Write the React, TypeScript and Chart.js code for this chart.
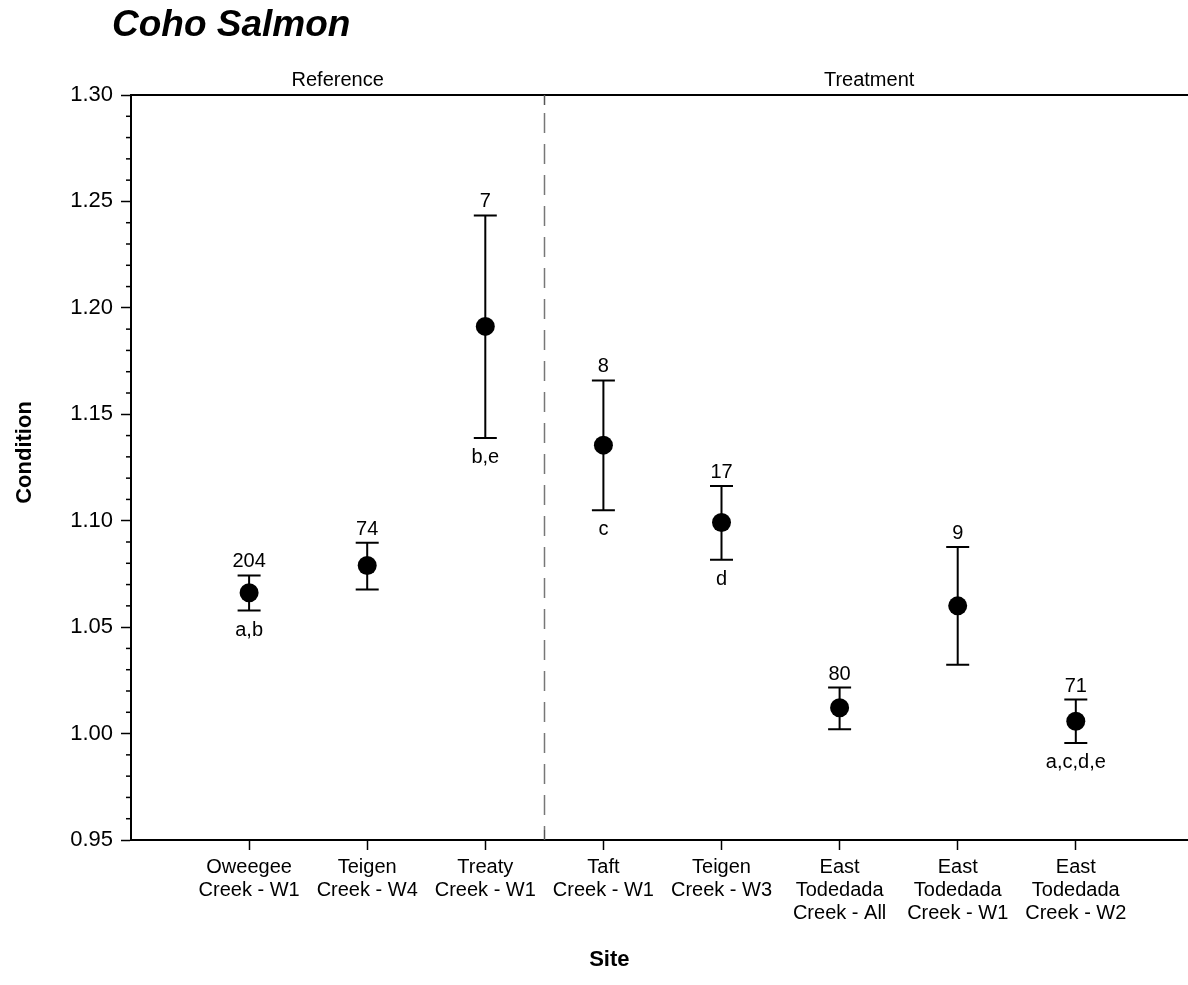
import React, { useEffect, useRef } from 'react';
import { Chart, registerables } from 'chart.js';

Chart.register(...registerables);

// ---- Data ----
const siteLabels: string[][] = [
  ['Oweegee', 'Creek - W1'],
  ['Teigen', 'Creek - W4'],
  ['Treaty', 'Creek - W1'],
  ['Taft', 'Creek - W1'],
  ['Teigen', 'Creek - W3'],
  ['East', 'Todedada', 'Creek - All'],
  ['East', 'Todedada', 'Creek - W1'],
  ['East', 'Todedada', 'Creek - W2'],
];
const sitePositions = [1, 2, 3, 4, 5, 6, 7, 8];
const meanCondition = [1.0662, 1.079, 1.1913, 1.1355, 1.0992, 1.0121, 1.06, 1.0058];
const upperCondition = [1.0743, 1.0897, 1.2434, 1.1659, 1.1163, 1.0216, 1.0876, 1.016];
const lowerCondition = [1.0578, 1.0677, 1.1389, 1.1049, 1.0817, 1.002, 1.0323, 0.9956];
const sampleSizes = ['204', '74', '7', '8', '17', '80', '9', '71'];
const groupLetters = ['a,b', '', 'b,e', 'c', 'd', '', '', 'a,c,d,e'];
const groupNames = ['Reference', 'Treatment'];
const groupBounds = [
  [0, 3.5],
  [3.5, 9],
];
const dividerPosition = 3.5;
const yMin = 0.95;
const yMax = 1.3;
const yMajorStep = 0.05;
const yMinorStep = 0.01;
const chartTitle = 'Coho Salmon';
const yTitle = 'Condition';
const xTitle = 'Site';

const FONT = "'Liberation Sans', Arial, Helvetica, sans-serif";

const decorPlugin = {
  id: 'decor',
  beforeDatasetsDraw(chart: any) {
    const { ctx, chartArea, scales } = chart;
    const xs = scales.x;
    const ys = scales.y;
    ctx.save();
    // top frame line
    ctx.strokeStyle = '#000';
    ctx.lineWidth = 2;
    ctx.beginPath();
    ctx.moveTo(chartArea.left, chartArea.top);
    ctx.lineTo(chartArea.right, chartArea.top);
    ctx.stroke();

    // minor ticks on y axis
    ctx.lineWidth = 1.5;
    const nMinor = Math.round((yMax - yMin) / yMinorStep);
    for (let k = 0; k <= nMinor; k++) {
      const v = yMin + k * yMinorStep;
      const r = (v - yMin) / yMajorStep;
      if (Math.abs(r - Math.round(r)) < 1e-6) continue;
      const py = ys.getPixelForValue(v);
      ctx.beginPath();
      ctx.moveTo(chartArea.left - 5, py);
      ctx.lineTo(chartArea.left, py);
      ctx.stroke();
    }

    // divider
    const dx = Math.round(xs.getPixelForValue(dividerPosition)) + 0.5;
    ctx.strokeStyle = '#555';
    ctx.lineWidth = 1.5;
    ctx.beginPath();
    ctx.moveTo(dx, chartArea.top);
    ctx.lineTo(dx, chartArea.top + 10);
    ctx.moveTo(dx, chartArea.bottom - 10);
    ctx.lineTo(dx, chartArea.bottom);
    ctx.stroke();
    ctx.strokeStyle = '#777';
    ctx.setLineDash([20, 11]);
    ctx.beginPath();
    ctx.moveTo(dx, chartArea.top + 18);
    ctx.lineTo(dx, chartArea.bottom - 10);
    ctx.stroke();
    ctx.setLineDash([]);

    // error bars
    ctx.strokeStyle = '#000';
    ctx.lineWidth = 2;
    for (let i = 0; i < sitePositions.length; i++) {
      const px = xs.getPixelForValue(sitePositions[i]);
      const pu = ys.getPixelForValue(upperCondition[i]);
      const pl = ys.getPixelForValue(lowerCondition[i]);
      ctx.beginPath();
      ctx.moveTo(px, pu);
      ctx.lineTo(px, pl);
      ctx.moveTo(px - 11.5, pu);
      ctx.lineTo(px + 11.5, pu);
      ctx.moveTo(px - 11.5, pl);
      ctx.lineTo(px + 11.5, pl);
      ctx.stroke();
    }
    ctx.restore();
  },
  afterDatasetsDraw(chart: any) {
    const { ctx, chartArea, scales } = chart;
    const xs = scales.x;
    const ys = scales.y;
    ctx.save();
    ctx.fillStyle = '#000';
    ctx.textAlign = 'center';
    ctx.textBaseline = 'alphabetic';
    ctx.font = `20px ${FONT}`;
    for (let i = 0; i < sitePositions.length; i++) {
      const px = xs.getPixelForValue(sitePositions[i]);
      const pu = ys.getPixelForValue(upperCondition[i]);
      const pl = ys.getPixelForValue(lowerCondition[i]);
      ctx.fillText(sampleSizes[i], px, pu - 8);
      if (groupLetters[i]) ctx.fillText(groupLetters[i], px, pl + 25);
    }

    // group headers
    ctx.font = `20px ${FONT}`;
    for (let g = 0; g < groupNames.length; g++) {
      const a = xs.getPixelForValue(groupBounds[g][0]);
      const b = xs.getPixelForValue(groupBounds[g][1]);
      ctx.fillText(groupNames[g], (a + b) / 2, chartArea.top - 9);
    }

    // title
    ctx.textAlign = 'left';
    ctx.font = `italic bold 37px ${FONT}`;
    ctx.fillText(chartTitle, 112, 36);

    // axis titles
    ctx.textAlign = 'center';
    ctx.textBaseline = 'middle';
    ctx.font = `bold 22px ${FONT}`;
    ctx.fillText(xTitle, xs.getPixelForValue(4.05), 960);
    ctx.save();
    ctx.translate(25, (chartArea.top + chartArea.bottom) / 2 - 15);
    ctx.rotate(-Math.PI / 2);
    ctx.fillText(yTitle, 0, 0);
    ctx.restore();
    ctx.restore();
  },
};

export default function App() {
  const canvasRef = useRef<HTMLCanvasElement | null>(null);

  useEffect(() => {
    const canvas = canvasRef.current;
    if (!canvas) return;
    const chart = new Chart(canvas, {
      type: 'scatter',
      data: {
        datasets: [
          {
            data: sitePositions.map((x, i) => ({ x, y: meanCondition[i] })),
            backgroundColor: '#000',
            borderColor: '#000',
            borderWidth: 0,
            pointRadius: 9.5,
            pointHoverRadius: 9.5,
            clip: false,
          },
        ],
      },
      options: {
        responsive: false,
        animation: false,
        events: [],
        layout: { autoPadding: false, padding: { top: 95, left: 0, right: 0, bottom: 0 } },
        plugins: {
          legend: { display: false },
          tooltip: { enabled: false },
          title: { display: false },
        },
        scales: {
          x: {
            type: 'linear',
            min: 0,
            max: 8.95,
            afterFit: (s: any) => {
              s.height = 145;
              s.paddingRight = 0;
              s.paddingLeft = 0;
            },
            border: { display: true, color: '#000', width: 2 },
            grid: {
              drawOnChartArea: false,
              drawTicks: true,
              tickLength: 10,
              tickWidth: 1.5,
              tickColor: (c: any) =>
                c.tick && c.tick.value >= 1 && c.tick.value <= 8 ? '#000' : 'rgba(0,0,0,0)',
            },
            ticks: {
              stepSize: 1,
              includeBounds: false,
              autoSkip: false,
              maxRotation: 0,
              padding: 6,
              color: '#000',
              font: { family: FONT, size: 20, lineHeight: 1.15 },
              callback: (v: any) => {
                const idx = sitePositions.indexOf(Number(v));
                return idx >= 0 ? siteLabels[idx] : '';
              },
            },
          },
          y: {
            type: 'linear',
            min: yMin,
            max: yMax,
            afterFit: (s: any) => {
              s.width = 131;
              s.paddingTop = 0;
              s.paddingBottom = 0;
            },
            border: { display: true, color: '#000', width: 2 },
            grid: {
              drawOnChartArea: false,
              drawTicks: true,
              tickLength: 10,
              tickWidth: 1.5,
              tickColor: '#000',
            },
            ticks: {
              stepSize: yMajorStep,
              padding: 8,
              color: '#000',
              font: { family: FONT, size: 22 },
              callback: (v: any) => Number(v).toFixed(2),
            },
          },
        },
      },
      plugins: [decorPlugin],
    });
    return () => chart.destroy();
  }, []);

  return (
    <div style={{ position: 'absolute', left: 0, top: 0, width: 1188, height: 985, overflow: 'hidden', background: '#fff' }}>
      <canvas ref={canvasRef} width={1188} height={985} style={{ display: 'block' }} />
    </div>
  );
}
